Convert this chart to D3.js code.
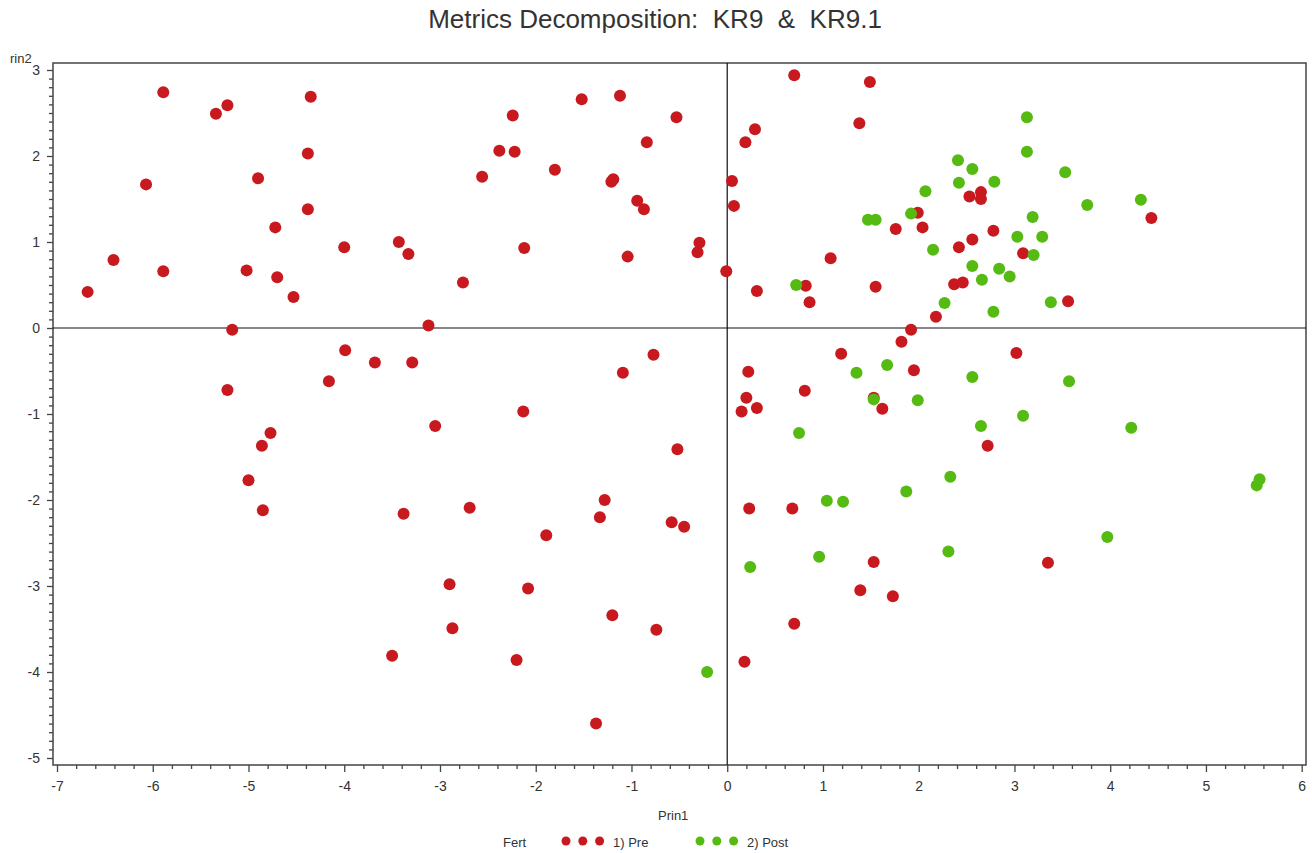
<!DOCTYPE html>
<html>
<head>
<meta charset="utf-8">
<script src="https://cdn.jsdelivr.net/npm/d3@7"></script>
<style>
  html, body { margin: 0; padding: 0; background: #fff; }
  svg { display: block; font-family: "Liberation Sans", Arial, sans-serif; }
</style>
</head>
<body>
<svg id="chart" width="1312" height="853"></svg>
<script>
// Principal component scores, group "1) Pre"
const preX = [
  -6.68, -6.41, -6.07, -5.89, -5.89, -5.34, -5.22, -5.17, -5.02, -4.90,
  -4.72, -4.70, -4.53, -4.38, -4.38, -4.35, -4.00, -3.43, -3.33, -3.12,
  -2.76, -2.56, -2.38, -2.24, -2.22, -2.12, -1.80, -1.52, -1.21, -1.19,
  -1.12, -1.04, -0.94, -0.87, -0.84, -0.53, -0.29, -0.31, -0.01, 0.70,
  1.49, 1.38, 0.29, 0.19, 0.05, 0.07, 0.31, 0.82, 0.86, 1.08,
  1.55, 1.76, 1.99, 2.04, 2.18, 1.92, 2.37, 2.46, 2.42, 2.53,
  2.56, 2.65, 2.65, 2.78, 3.09, 3.56, 4.43,
  -5.22, -4.77, -4.86, -5.00, -4.85, -4.16, -3.99, -3.68, -3.29, -3.05,
  -3.38, -3.50, -2.90, -2.87, -2.69, -2.13, -2.20, -1.89, -2.08, -1.28,
  -1.33, -1.20, -1.37, -1.09, -0.77, -0.74, -0.52, -0.58, -0.45,
  0.22, 0.20, 0.15, 0.31, 0.23, 0.68, 0.70, 0.18, 0.81, 1.19,
  1.53, 1.62, 1.82, 1.95, 1.53, 1.39, 1.73, 2.72, 3.02, 3.35
];
const preY = [
  0.42, 0.79, 1.67, 2.74, 0.66, 2.49, 2.59, -0.02, 0.67, 1.74,
  1.17, 0.59, 0.36, 2.03, 1.38, 2.69, 0.94, 1.00, 0.86, 0.03,
  0.53, 1.76, 2.06, 2.47, 2.05, 0.93, 1.84, 2.66, 1.70, 1.73,
  2.70, 0.83, 1.48, 1.38, 2.16, 2.45, 0.99, 0.88, 0.66, 2.94,
  2.86, 2.38, 2.31, 2.16, 1.71, 1.42, 0.43, 0.49, 0.30, 0.81,
  0.48, 1.15, 1.34, 1.17, 0.13, -0.02, 0.51, 0.53, 0.94, 1.53,
  1.03, 1.58, 1.50, 1.13, 0.87, 0.31, 1.28,
  -0.72, -1.22, -1.37, -1.77, -2.12, -0.62, -0.26, -0.40, -0.40, -1.14,
  -2.16, -3.81, -2.98, -3.49, -2.09, -0.97, -3.86, -2.41, -3.03, -2.00,
  -2.20, -3.34, -4.60, -0.52, -0.31, -3.51, -1.41, -2.26, -2.31,
  -0.51, -0.81, -0.97, -0.93, -2.10, -2.10, -3.44, -3.88, -0.73, -0.30,
  -0.81, -0.94, -0.16, -0.49, -2.72, -3.05, -3.12, -1.37, -0.29, -2.73
];

// Principal component scores, group "2) Post"
const postX = [
  0.72, 1.47, 1.55, 1.92, 2.07, 2.15, 2.27, 2.41, 2.42, 2.56,
  2.56, 2.66, 2.79, 2.84, 2.78, 2.95, 3.03, 3.13, 3.13, 3.19,
  3.20, 3.29, 3.38, 3.53, 3.76, 4.32,
  0.75, 0.24, -0.21, 1.04, 1.21, 0.96, 1.35, 1.67, 1.53, 1.99,
  1.87, 2.33, 2.31, 2.56, 2.65, 3.09, 3.57, 4.22, 3.97, 5.53, 5.56
];
const postY = [
  0.50, 1.26, 1.26, 1.33, 1.59, 0.91, 0.29, 1.95, 1.69, 1.85,
  0.72, 0.56, 1.70, 0.69, 0.19, 0.60, 1.06, 2.45, 2.05, 1.29,
  0.85, 1.06, 0.30, 1.81, 1.43, 1.49,
  -1.22, -2.78, -4.00, -2.01, -2.02, -2.66, -0.52, -0.43, -0.83, -0.84,
  -1.90, -1.73, -2.60, -0.57, -1.14, -1.02, -0.62, -1.16, -2.43, -1.83, -1.76
];

const groupNames = ["1) Pre", "2) Post"];
const groupColors = ["#c8191f", "#55bb13"];

const xTicks = [-7, -6, -5, -4, -3, -2, -1, 0, 1, 2, 3, 4, 5, 6];
const yTicks = [-5, -4, -3, -2, -1, 0, 1, 2, 3];

const titleText = "Metrics Decomposition:  KR9  &  KR9.1";
const xLabel = "Prin1";
const yLabel = "rin2";
const legendTitle = "Fert";

const svg = d3.select("#chart");
const W = 1312, H = 853;
svg.append("rect").attr("width", W).attr("height", H).attr("fill", "#fff");

// plot frame and scales
const frame = { left: 53, right: 1306, top: 63, bottom: 765 };
const x = d3.scaleLinear().domain([-7, 6]).range([57, 1301.7]);
const y = d3.scaleLinear().domain([-5, 3]).range([758, 70]);

const textColor = "#333";

// minor ticks
const xMinor = d3.range(-7, 6.0001, 0.2).filter(v => Math.abs(v - Math.round(v)) > 1e-6);
const yMinor = d3.range(-5, 3.0001, 0.1).filter(v => Math.abs(v - Math.round(v)) > 1e-6);

const gxMinor = svg.append("g")
  .attr("transform", `translate(0,${frame.bottom})`)
  .call(d3.axisBottom(x).tickValues(xMinor).tickSize(4).tickFormat(""));
const gyMinor = svg.append("g")
  .attr("transform", `translate(${frame.left},0)`)
  .call(d3.axisLeft(y).tickValues(yMinor).tickSize(4).tickFormat(""));

const gx = svg.append("g")
  .attr("transform", `translate(0,${frame.bottom})`)
  .call(d3.axisBottom(x).tickValues(xTicks).tickSize(7).tickPadding(9).tickFormat(d3.format("d")));
const gy = svg.append("g")
  .attr("transform", `translate(${frame.left},0)`)
  .call(d3.axisLeft(y).tickValues(yTicks).tickSize(6).tickPadding(7).tickFormat(d3.format("d")));

[gxMinor, gyMinor, gx, gy].forEach(g => {
  g.select(".domain").remove();
  g.selectAll(".tick line").attr("stroke", "#444").attr("stroke-width", 1.3);
  g.selectAll(".tick text")
    .attr("fill", textColor)
    .style("font-size", "14px")
    .style("font-family", "'Liberation Sans', Arial, sans-serif");
});
// d3 uses the Unicode minus; the labels here use a plain hyphen
gx.selectAll(".tick text").text(d => String(d));
gy.selectAll(".tick text").text(d => String(d));

// frame
svg.append("rect")
  .attr("x", frame.left).attr("y", frame.top)
  .attr("width", frame.right - frame.left).attr("height", frame.bottom - frame.top)
  .attr("fill", "none").attr("stroke", "#444").attr("stroke-width", 1.5);

// zero reference lines
svg.append("line")
  .attr("x1", frame.left).attr("x2", frame.right)
  .attr("y1", y(0)).attr("y2", y(0))
  .attr("stroke", "#111").attr("stroke-width", 1.2);
svg.append("line")
  .attr("x1", x(0)).attr("x2", x(0))
  .attr("y1", frame.top).attr("y2", frame.bottom)
  .attr("stroke", "#111").attr("stroke-width", 1.2);

// points
const series = [
  { name: groupNames[0], color: groupColors[0], xs: preX, ys: preY },
  { name: groupNames[1], color: groupColors[1], xs: postX, ys: postY }
];
series.forEach(s => {
  svg.append("g")
    .selectAll("circle")
    .data(d3.zip(s.xs, s.ys))
    .join("circle")
    .attr("cx", d => x(d[0]))
    .attr("cy", d => y(d[1]))
    .attr("r", 6)
    .attr("fill", s.color);
});

// title
svg.append("text")
  .attr("x", 655).attr("y", 28)
  .attr("text-anchor", "middle")
  .attr("fill", textColor)
  .style("font-size", "26px")
  .style("white-space", "pre")
  .text(titleText);

// axis labels
svg.append("text")
  .attr("x", 658).attr("y", 820)
  .attr("fill", textColor)
  .style("font-size", "13px")
  .text(xLabel);
svg.append("text")
  .attr("x", 10).attr("y", 63)
  .attr("fill", textColor)
  .style("font-size", "13px")
  .text(yLabel);

// legend
const legend = svg.append("g");
legend.append("text")
  .attr("x", 503).attr("y", 847)
  .attr("fill", textColor)
  .style("font-size", "13px")
  .text(legendTitle);
const legendStart = [566, 700];
series.forEach((s, i) => {
  legend.selectAll(null)
    .data([0, 1, 2])
    .join("circle")
    .attr("cx", k => legendStart[i] + k * 16.8)
    .attr("cy", 841)
    .attr("r", 4.5)
    .attr("fill", s.color);
  legend.append("text")
    .attr("x", legendStart[i] + 47)
    .attr("y", 847)
    .attr("fill", textColor)
    .style("font-size", "13px")
    .text(s.name);
});
</script>
</body>
</html>
